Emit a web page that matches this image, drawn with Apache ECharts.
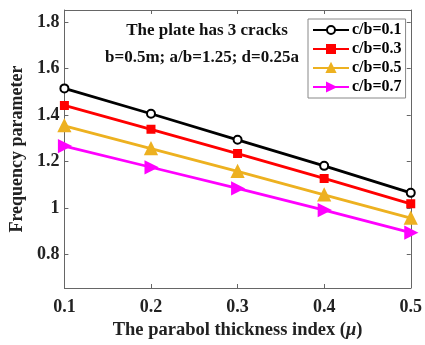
<!DOCTYPE html>
<html lang="en">
<head>
    <meta charset="UTF-8">
    <title>Frequency parameter</title>
    <script src="https://cdn.jsdelivr.net/npm/echarts@6/dist/echarts.min.js"></script>
    <style>
        html, body { margin: 0; padding: 0; background: #ffffff; }
        #chart { width: 425px; height: 345px; }
    </style>
</head>
<body>
<div id="chart"></div>
<script>
    // thickness index mu
    var muValues = [0.1, 0.2, 0.3, 0.4, 0.5];
    var names = ['c/b=0.1', 'c/b=0.3', 'c/b=0.5', 'c/b=0.7'];
    var cb01 = [1.515, 1.406, 1.294, 1.182, 1.066];
    var cb03 = [1.442, 1.339, 1.235, 1.128, 1.019];
    var cb05 = [1.354, 1.256, 1.158, 1.057, 0.957];
    var cb07 = [1.267, 1.176, 1.085, 0.992, 0.895];
    var yTicks = [0.8, 1, 1.2, 1.4, 1.6, 1.8];
    var xTicks = [0.1, 0.2, 0.3, 0.4, 0.5];

    var font = '"Liberation Serif", "Times New Roman", serif';
    var axisColor = '#666666';

    function pairs(ys){
        var out = [];
        for (var i = 0; i < muValues.length; i++) out.push([muValues[i], ys[i]]);
        return out;
    }

    function lineSeries(name, ys, color, symbol, size, rotate, fill){
        return {
            name: name,
            type: 'line',
            data: pairs(ys),
            symbol: symbol,
            symbolSize: size,
            symbolRotate: rotate,
            showAllSymbol: true,
            clip: false,
            lineStyle: { color: color, width: 2.8 },
            itemStyle: { color: fill, borderColor: color, borderWidth: 2 }
        };
    }

    var yMin = 0.657, yMax = 1.852;

    var option = {
        animation: false,
        backgroundColor: '#ffffff',
        grid: { left: 58, right: 11, top: 10, bottom: 51, show: false },
        legend: {
            data: names,
            left: 308,
            top: 19,
            orient: 'vertical',
            backgroundColor: '#ffffff',
            borderColor: '#888888',
            borderWidth: 1,
            borderRadius: 0,
            padding: [3, 4, 3, 4],
            itemGap: 3,
            itemWidth: 36,
            itemHeight: 10,
            textStyle: { fontFamily: font, fontWeight: 'bold', fontSize: 16, color: '#000', padding: [0, 0, 0, -2] }
        },
        graphic: [
            { type: 'text', style: { text: 'The plate has 3 cracks', font: 'bold 17px ' + font, fill: '#111', textAlign: 'center', textVerticalAlign: 'middle', x: 207, y: 31 } },
            { type: 'text', style: { text: 'b=0.5m; a/b=1.25; d=0.25a', font: 'bold 17px ' + font, fill: '#111', textAlign: 'center', textVerticalAlign: 'middle', x: 202, y: 58 } }
        ],
        xAxis: [
            {
                type: 'value', min: 0.1, max: 0.5, interval: 0.1,
                name: '{n|The parabol thickness index (}{m|\u03bc}{n|)}',
                nameLocation: 'middle', nameGap: 33,
                nameTextStyle: {
                    rich: {
                        n: { fontFamily: font, fontWeight: 'bold', fontSize: 18.5, color: '#222' },
                        m: { fontFamily: font, fontWeight: 'bold', fontStyle: 'italic', fontSize: 18.5, color: '#222' }
                    }
                },
                axisLine: { show: true, lineStyle: { color: axisColor, width: 1 } },
                axisTick: { show: true, inside: true, length: 4, lineStyle: { color: axisColor } },
                axisLabel: { fontFamily: font, fontWeight: 'bold', fontSize: 18, color: '#222', margin: 10, customValues: xTicks, formatter: function(v){ return v.toFixed(1); } },
                splitLine: { show: false }
            },
            {
                type: 'value', position: 'top', min: 0.1, max: 0.5, interval: 0.1,
                axisLine: { show: true, lineStyle: { color: axisColor, width: 1 } },
                axisTick: { show: true, inside: true, length: 4, lineStyle: { color: axisColor } },
                axisLabel: { show: false },
                splitLine: { show: false }
            }
        ],
        yAxis: [
            {
                type: 'value', min: yMin, max: yMax,
                name: 'Frequency parameter',
                nameLocation: 'middle', nameGap: 35,
                nameTextStyle: { fontFamily: font, fontWeight: 'bold', fontSize: 18, color: '#222' },
                axisLine: { show: true, lineStyle: { color: axisColor, width: 1 } },
                axisTick: { show: true, inside: true, length: 4, customValues: yTicks, lineStyle: { color: axisColor } },
                axisLabel: { fontFamily: font, fontWeight: 'bold', fontSize: 18, color: '#222', margin: 5, customValues: yTicks, formatter: function(v){ return v === 1 ? '1' : v.toFixed(1); } },
                splitLine: { show: false }
            },
            {
                type: 'value', position: 'right', min: yMin, max: yMax,
                axisLine: { show: true, lineStyle: { color: axisColor, width: 1 } },
                axisTick: { show: true, inside: true, length: 4, customValues: yTicks, lineStyle: { color: axisColor } },
                axisLabel: { show: false },
                splitLine: { show: false }
            }
        ],
        series: [
            lineSeries(names[0], cb01, '#000000', 'circle', 8, 0, '#ffffff'),
            lineSeries(names[1], cb03, '#ff0000', 'rect', 7, 0, '#ff0000'),
            lineSeries(names[2], cb05, '#edb120', 'triangle', 11, 0, '#edb120'),
            lineSeries(names[3], cb07, '#ff00ff', 'triangle', 11, -90, '#ff00ff')
        ]
    };
    echarts.init(document.getElementById('chart')).setOption(option);
</script>
</body>
</html>
